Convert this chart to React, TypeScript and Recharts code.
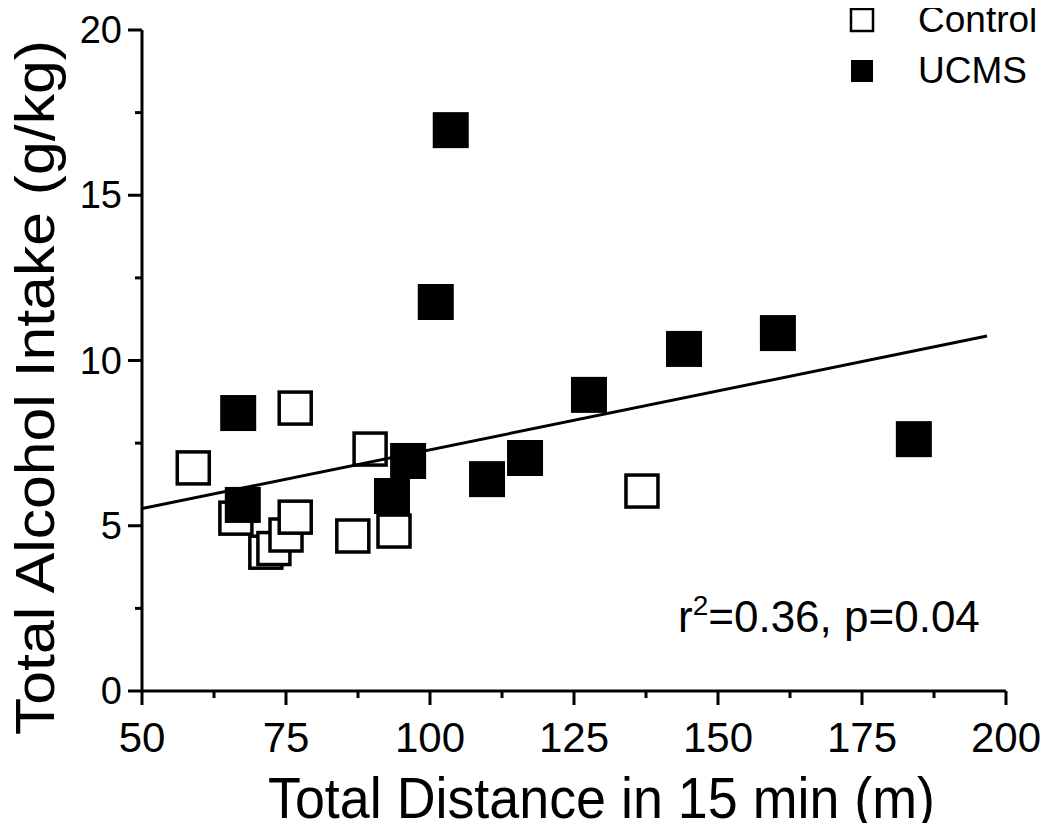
import React from "react";
import { ScatterChart, Scatter, XAxis, YAxis } from "recharts";

const controlX = [58.9, 76.6, 89.6, 66.3, 71.5, 72.9, 75.0, 76.6, 86.6, 93.75, 136.8];
const controlY = [6.75, 8.56, 7.32, 5.23, 4.2, 4.31, 4.72, 5.26, 4.69, 4.84, 6.05];
const ucmsX = [66.7, 67.5, 93.4, 96.2, 101.0, 103.6, 109.9, 116.5, 127.6, 144.1, 160.4, 184.0];
const ucmsY = [8.41, 5.63, 5.9, 6.96, 11.77, 16.97, 6.41, 7.05, 8.96, 10.35, 10.83, 7.62];
const fitX = [50, 196.7];
const fitY = [5.52, 10.74];
const xTicks = [50, 62.5, 75, 87.5, 100, 112.5, 125, 137.5, 150, 162.5, 175, 187.5, 200];
const yTicks = [0, 2.5, 5, 7.5, 10, 12.5, 15, 17.5, 20];

const controlData = controlX.map((x, i) => ({ x, y: controlY[i] }));
const ucmsData = ucmsX.map((x, i) => ({ x, y: ucmsY[i] }));
const fitData = fitX.map((x, i) => ({ x, y: fitY[i] }));

const FONT = '"Liberation Sans", Arial, Helvetica, sans-serif';

const OpenSquare = (props: any) => {
  const { cx, cy } = props;
  if (cx == null || cy == null) return <g />;
  return <rect x={cx - 16} y={cy - 16} width={32} height={32} fill="#fff" stroke="#000" strokeWidth={3.5} />;
};
const FilledSquare = (props: any) => {
  const { cx, cy } = props;
  if (cx == null || cy == null) return <g />;
  return <rect x={cx - 18} y={cy - 18} width={36} height={36} fill="#000" />;
};
const NoShape = () => <g />;

const XTick = (props: any) => {
  const { x, y, payload } = props;
  const major = payload.value % 25 === 0;
  return (
    <g>
      <line x1={x} y1={y} x2={x} y2={y + (major ? 14 : 7)} stroke="#000" strokeWidth={3} />
      {major && (
        <text x={x} y={y + 61} textAnchor="middle" fontSize={42} fontFamily={FONT} fill="#000">
          {payload.value}
        </text>
      )}
    </g>
  );
};

const YTick = (props: any) => {
  const { x, y, payload } = props;
  const major = payload.value % 5 === 0;
  return (
    <g>
      <line x1={x} y1={y} x2={x - (major ? 14 : 7)} y2={y} stroke="#000" strokeWidth={3} />
      {major && (
        <text x={x - 20} y={y + 13} textAnchor="end" fontSize={38} fontFamily={FONT} fill="#000">
          {payload.value}
        </text>
      )}
    </g>
  );
};

export default function App() {
  return (
    <div style={{ position: "relative", width: 1034, height: 815, background: "#fff" }}>
      <ScatterChart width={1034} height={815} margin={{ top: 22, right: 36, bottom: 0, left: 0 }}>
        <XAxis
          type="number"
          dataKey="x"
          domain={[50, 200]}
          ticks={xTicks}
          interval={0}
          height={132}
          tickSize={0}
          tickMargin={0}
          tickLine={false}
          tick={<XTick />}
          axisLine={{ stroke: "#000", strokeWidth: 3 }}
          allowDataOverflow
        />
        <YAxis
          type="number"
          dataKey="y"
          domain={[0, 20]}
          ticks={yTicks}
          interval={0}
          width={134}
          tickSize={0}
          tickMargin={0}
          tickLine={false}
          tick={<YTick />}
          axisLine={{ stroke: "#000", strokeWidth: 3 }}
          allowDataOverflow
        />
        <Scatter name="Control" data={controlData} shape={<OpenSquare />} isAnimationActive={false} />
        <Scatter
          name="Fit"
          data={fitData}
          line={{ stroke: "#000", strokeWidth: 3 }}
          shape={<NoShape />}
          isAnimationActive={false}
        />
        <Scatter name="UCMS" data={ucmsData} shape={<FilledSquare />} isAnimationActive={false} />
      </ScatterChart>
      <svg
        width={1040}
        height={831}
        style={{ position: "absolute", left: -8, top: -8, pointerEvents: "none" }}
      >
        <rect x={851} y={9} width={22} height={22} fill="#fff" stroke="#000" strokeWidth={2.5} />
        <text x={918} y={32} fontSize={37} fontFamily={FONT} fill="#000">Control</text>
        <rect x={851} y={60} width={22} height={22} fill="#000" />
        <text x={918} y={83} fontSize={37} fontFamily={FONT} fill="#000">UCMS</text>
        <text x={678} y={632} fontSize={44} fontFamily={FONT} fill="#000">
          r<tspan fontSize={28} dy={-17}>2</tspan>
          <tspan dy={17}>=0.36, p=0.04</tspan>
        </text>
        <text
          x={268}
          y={818}
          fontSize={58}
          fontFamily={FONT}
          fill="#000"
          textLength={667}
          lengthAdjust="spacingAndGlyphs"
        >
          Total Distance in 15 min (m)
        </text>
        <text
          x={0}
          y={0}
          transform="translate(54,735) rotate(-90)"
          fontSize={56}
          fontFamily={FONT}
          fill="#000"
          textLength={695}
          lengthAdjust="spacingAndGlyphs"
        >
          Total Alcohol Intake (g/kg)
        </text>
      </svg>
    </div>
  );
}
